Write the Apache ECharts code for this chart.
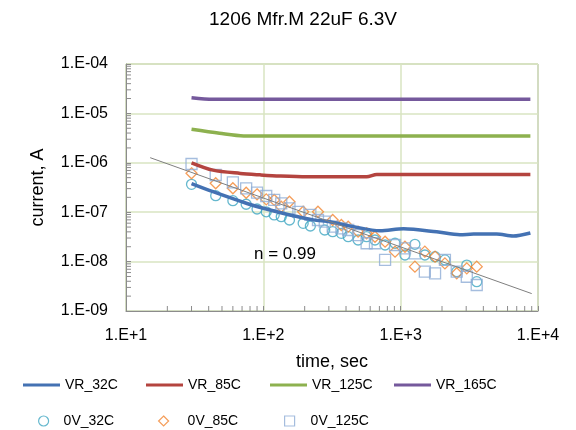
<!DOCTYPE html>
<html>
<head>
<meta charset="utf-8">
<script src="https://cdn.jsdelivr.net/npm/echarts@6/dist/echarts.min.js"></script>
<style>
  html, body { margin: 0; padding: 0; background: #fff; }
  #chart { width: 576px; height: 430px; }
</style>
</head>
<body>
<div id="chart"></div>
<script>
// [time sec, current A]
const vr32c = [[30, 3.8e-7], [43, 2.6e-7], [76, 1.5e-7], [100, 1.2e-7], [156, 8.8e-8], [231, 7.0e-8],
  [306, 6.4e-8], [452, 5.1e-8], [708, 4.2e-8], [1050, 4.6e-8], [1830, 4.0e-8], [2700, 3.5e-8],
  [3400, 3.6e-8], [5000, 3.6e-8], [6600, 3.3e-8], [8800, 3.8e-8]];
const vr85c = [[30, 1.0e-6], [43, 7.1e-7], [68, 6.1e-7], [95, 5.7e-7], [132, 5.4e-7], [207, 5.2e-7],
  [566, 5.2e-7], [670, 5.8e-7], [8800, 5.8e-7]];
const vr125c = [[30, 4.76e-6], [48, 3.95e-6], [72, 3.5e-6], [8800, 3.5e-6]];
const vr165c = [[30, 2.08e-5], [43, 1.93e-5], [8800, 1.93e-5]];

const ov32c = [[30, 3.67e-7], [45, 2.16e-7], [60, 1.71e-7], [75, 1.45e-7], [90, 1.16e-7], [105, 1.02e-7],
  [120, 8.8e-8], [135, 8.1e-8], [155, 6.95e-8], [195, 5.96e-8], [220, 5.26e-8], [280, 4.36e-8],
  [320, 4.03e-8], [370, 3.74e-8], [415, 3.19e-8], [490, 2.74e-8], [565, 3.19e-8], [650, 2.74e-8],
  [770, 2.17e-8], [910, 2.35e-8], [1075, 1.36e-8], [1270, 2.24e-8], [1500, 1.36e-8], [1780, 1.26e-8],
  [2100, 1.08e-8], [2560, 6.25e-9], [3030, 8.5e-9], [3580, 3.92e-9]];
const ov85c = [[30, 6.12e-7], [45, 3.85e-7], [60, 3.05e-7], [75, 2.48e-7], [90, 2.3e-7], [105, 1.82e-7],
  [120, 1.77e-7], [135, 1.29e-7], [155, 1.63e-7], [195, 1.02e-7], [250, 1.02e-7], [320, 6.95e-8],
  [370, 5.5e-8], [415, 5.09e-8], [490, 4.03e-8], [565, 3.74e-8], [650, 3.19e-8], [770, 2.53e-8],
  [910, 1.59e-8], [1075, 2.0e-8], [1270, 7.9e-9], [1500, 1.59e-8], [1780, 1.26e-8], [2100, 9.2e-9],
  [2560, 5.8e-9], [3030, 7.3e-9], [3580, 7.9e-9]];
const ov125c = [[30, 9.46e-7], [45, 5.66e-7], [60, 4.03e-7], [75, 3.05e-7], [90, 2.48e-7], [105, 2.13e-7],
  [120, 1.77e-7], [135, 1.51e-7], [155, 1.2e-7], [180, 1.02e-7], [220, 8.8e-8], [250, 6.95e-8],
  [280, 6.43e-8], [320, 5.09e-8], [370, 4.72e-8], [415, 4.36e-8], [490, 3.45e-8], [565, 2.35e-8],
  [650, 2.35e-8], [770, 1.08e-8], [910, 2.17e-8], [1075, 1.86e-8], [1270, 1.47e-8], [1500, 6.25e-9],
  [1780, 5.8e-9], [2100, 1.08e-8], [2560, 6.25e-9], [3030, 4.94e-9], [3580, 3.36e-9]];
const trend = [[15, 1.27e-6], [9000, 2.25e-9]];

const xDecades = [1, 2, 3];        // minor ticks between 10^1 .. 10^4
const yDecades = [-9, -8, -7, -6, -5];

const colors = {
  vr32c: "#4472b3", vr85c: "#b4443f", vr125c: "#8db14f", vr165c: "#75599c",
  ov32c: "#3fa6c2", ov85c: "#f2852f", ov125c: "#8eacd6"
};

const chart = echarts.init(document.getElementById("chart"));

function lineSeries(name, data, color) {
  return {
    name: name, type: "line", data: data, symbol: "none", smooth: 0.3,
    lineStyle: { color: color, width: 3.5 }, itemStyle: { color: color }
  };
}
function markerSeries(name, data, color, symbol, size) {
  return {
    name: name, type: "scatter", data: data, symbol: symbol, symbolSize: size,
    itemStyle: { color: "rgba(0,0,0,0)", borderColor: color, borderWidth: 1.3 }
  };
}

// minor ticks (log spaced), drawn through the axis scales
const minorX = [];
xDecades.forEach(d => { for (let k = 2; k <= 9; k++) minorX.push(k * Math.pow(10, d)); });
const minorY = [];
yDecades.forEach(d => { for (let k = 2; k <= 9; k++) minorY.push(k * Math.pow(10, d)); });

const legendItems = [
  { name: "VR_32C", left: 23, top: 378, icon: "rect", w: 37, h: 3, pad: 0, line: colors.vr32c },
  { name: "VR_85C", left: 146, top: 378, icon: "rect", w: 37, h: 3, pad: 0, line: colors.vr85c },
  { name: "VR_125C", left: 270, top: 378, icon: "rect", w: 37, h: 3, pad: 0, line: colors.vr125c },
  { name: "VR_165C", left: 394, top: 378, icon: "rect", w: 37, h: 3, pad: 0, line: colors.vr165c },
  { name: "0V_32C", left: 38, top: 414, icon: "circle", w: 10, h: 10, pad: 10, c: colors.ov32c },
  { name: "0V_85C", left: 158, top: 414, icon: "diamond", w: 10, h: 10, pad: 14, c: colors.ov85c },
  { name: "0V_125C", left: 284, top: 414, icon: "rect", w: 10, h: 10, pad: 11, c: colors.ov125c }
];

const option = {
  animation: false,
  title: {
    text: "1206 Mfr.M 22uF 6.3V",
    left: 204, top: 5,
    textStyle: { fontFamily: "Liberation Sans", fontSize: 19, fontWeight: "normal", color: "#000" }
  },
  legend: legendItems.map(it => ({
    data: [it.name], left: it.left, top: it.top, icon: it.icon,
    itemWidth: it.w, itemHeight: it.h, padding: 0,
    itemStyle: it.c ? { color: "rgba(0,0,0,0)", borderColor: it.c, borderWidth: 1.2 }
      : { color: it.line, borderWidth: 0 },
    textStyle: {
      fontFamily: "Liberation Sans", fontSize: 14, color: "#000",
      padding: [0, 0, 0, it.pad]
    }
  })),
  grid: {
    left: 126, right: 38, top: 64, bottom: 119,
    show: true, borderColor: "#8c8c8c", borderWidth: 1
  },
  xAxis: {
    type: "log", logBase: 10, min: 10, max: 10000,
    name: "time, sec", nameLocation: "middle", nameGap: 42,
    nameTextStyle: { fontFamily: "Liberation Sans", fontSize: 18, color: "#000" },
    axisLine: { lineStyle: { color: "#8c8c8c" } },
    axisTick: { inside: true, length: 5, lineStyle: { color: "#8c8c8c" } },
    axisLabel: {
      margin: 17, fontFamily: "Liberation Sans", fontSize: 16, color: "#000",
      formatter: v => "1.E+" + Math.round(Math.log10(v))
    },
    splitLine: { show: true, lineStyle: { color: "#d9e5c2", width: 1.5 } }
  },
  yAxis: {
    type: "log", logBase: 10, min: 1e-9, max: 1e-4,
    name: "current, A", nameLocation: "middle", nameGap: 79,
    nameTextStyle: { fontFamily: "Liberation Sans", fontSize: 18, color: "#000" },
    axisLine: { lineStyle: { color: "#8c8c8c" } },
    axisTick: { inside: true, length: 5, lineStyle: { color: "#8c8c8c" } },
    axisLabel: {
      margin: 18, fontFamily: "Liberation Sans", fontSize: 16, color: "#000",
      formatter: v => "1.E-" + String(-Math.round(Math.log10(v))).padStart(2, "0")
    },
    splitLine: { show: true, lineStyle: { color: "#d9e5c2", width: 1.5 } }
  },
  graphic: [{
    type: "text", left: 254, top: 246,
    style: { text: "n = 0.99", fontFamily: "Liberation Sans", fontSize: 17, fill: "#000" }
  }],
  series: [
    {
      type: "custom", silent: true, clip: false, z: 1,
      data: minorX.map(v => [v, 1e-9]),
      renderItem: (params, api) => {
        const p = api.coord([api.value(0), api.value(1)]);
        return { type: "line", shape: { x1: p[0], y1: p[1], x2: p[0], y2: p[1] - 5 },
          style: { stroke: "#8c8c8c", lineWidth: 1 } };
      }
    },
    {
      type: "custom", silent: true, clip: false, z: 1,
      data: minorY.map(v => [10, v]),
      renderItem: (params, api) => {
        const p = api.coord([api.value(0), api.value(1)]);
        return { type: "line", shape: { x1: p[0], y1: p[1], x2: p[0] + 5, y2: p[1] },
          style: { stroke: "#8c8c8c", lineWidth: 1 } };
      }
    },
    lineSeries("VR_32C", vr32c, colors.vr32c),
    lineSeries("VR_85C", vr85c, colors.vr85c),
    lineSeries("VR_125C", vr125c, colors.vr125c),
    lineSeries("VR_165C", vr165c, colors.vr165c),
    markerSeries("0V_32C", ov32c, colors.ov32c, "circle", 10),
    markerSeries("0V_85C", ov85c, colors.ov85c, "diamond", 11),
    markerSeries("0V_125C", ov125c, colors.ov125c, "rect", 11),
    {
      name: "trend", type: "line", data: trend, symbol: "none", silent: true,
      lineStyle: { color: "#7f7f7f", width: 1 }
    }
  ]
};

chart.setOption(option);
</script>
</body>
</html>
